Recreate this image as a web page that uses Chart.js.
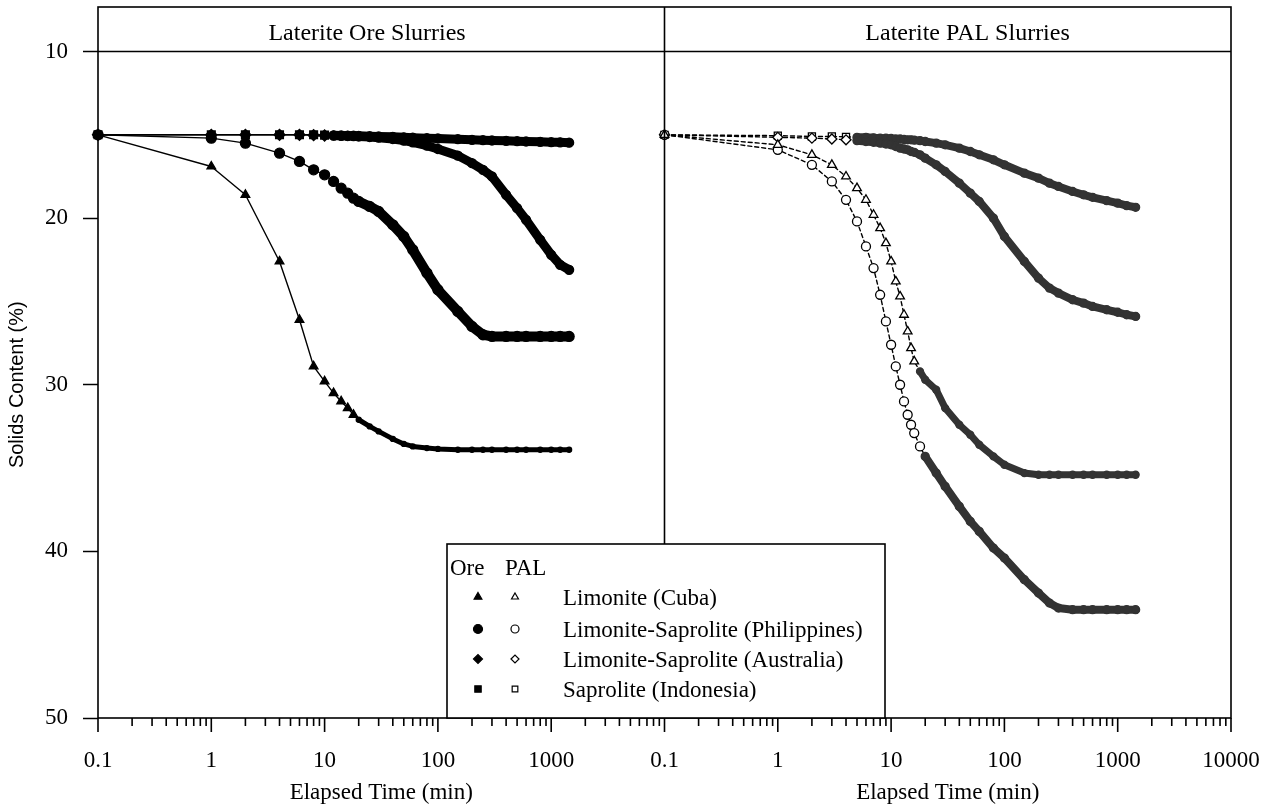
<!DOCTYPE html>
<html>
<head>
<meta charset="utf-8">
<title>Solids content of laterite slurries</title>
<script src="https://cdn.jsdelivr.net/npm/chart.js@4.4.1/dist/chart.umd.min.js"></script>
<style>
  html, body { margin: 0; padding: 0; background: #fff; }
  #wrap { position: relative; width: 1272px; height: 808px; }
</style>
</head>
<body>
<div id="wrap"><canvas id="chart"></canvas></div>
<script>
// --- labels ---
const PANEL_TITLES = ['Laterite Ore Slurries', 'Laterite PAL Slurries'];
const X_TITLE = 'Elapsed Time (min)';
const Y_TITLE = 'Solids Content (%)';
const Y_TICKS = [10, 20, 30, 40, 50];
const X_DECADES = [0.1, 1, 10, 100, 1000, 10000];
const SAMPLE_NAMES = ['Limonite (Cuba)', 'Limonite-Saprolite (Philippines)', 'Limonite-Saprolite (Australia)', 'Saprolite (Indonesia)'];

// --- ore slurries (read every 2 min early on, thinner later) ---
const ORE_TIME = [0.1, 1, 2, 4, 6, 8, 10, 12, 14, 16, 18, 20, 25, 30, 40, 50, 60, 80, 100, 150, 200, 250, 300, 400, 500, 600, 800, 1000, 1200, 1440];
const ORE_CUBA = [15, 16.9, 18.6, 22.6, 26.1, 28.9, 29.8, 30.5, 31.0, 31.4, 31.8, 32.1, 32.5, 32.8, 33.25, 33.55, 33.7, 33.8, 33.85, 33.9, 33.9, 33.9, 33.9, 33.9, 33.9, 33.9, 33.9, 33.9, 33.9, 33.9];
const ORE_PHIL = [15, 15.2, 15.5, 16.1, 16.6, 17.1, 17.4, 17.8, 18.2, 18.5, 18.8, 19.0, 19.3, 19.6, 20.4, 21.1, 21.9, 23.3, 24.3, 25.6, 26.5, 27.0, 27.1, 27.1, 27.1, 27.1, 27.1, 27.1, 27.1, 27.1];
const ORE_AUS  = [15, 15, 15, 15, 15, 15.02, 15.04, 15.05, 15.06, 15.07, 15.08, 15.1, 15.13, 15.17, 15.25, 15.35, 15.45, 15.65, 15.85, 16.25, 16.7, 17.1, 17.5, 18.6, 19.4, 20.1, 21.3, 22.2, 22.8, 23.1];
const ORE_INDO = [15, 15, 15, 15, 15, 15, 15.02, 15.03, 15.04, 15.05, 15.05, 15.06, 15.08, 15.1, 15.12, 15.15, 15.17, 15.2, 15.22, 15.26, 15.3, 15.32, 15.34, 15.36, 15.38, 15.4, 15.42, 15.44, 15.45, 15.47];

// --- PAL slurries (read every minute early on) ---
const PAL_TIME = [0.1, 1, 2, 3, 4, 5, 6, 7, 8, 9, 10, 11, 12, 13, 14, 15, 16, 18, 20, 25, 30, 40, 50, 60, 80, 100, 150, 200, 250, 300, 400, 500, 600, 800, 1000, 1200, 1440];
const PAL_CUBA = [15, 15.6, 16.2, 16.8, 17.5, 18.2, 18.9, 19.8, 20.6, 21.5, 22.6, 23.8, 24.7, 25.8, 26.8, 27.8, 28.6, 29.2, 29.7, 30.3, 31.4, 32.4, 33.0, 33.6, 34.3, 34.8, 35.3, 35.4, 35.4, 35.4, 35.4, 35.4, 35.4, 35.4, 35.4, 35.4, 35.4];
const PAL_PHIL = [15, 15.9, 16.8, 17.8, 18.9, 20.2, 21.7, 23.0, 24.6, 26.2, 27.6, 28.9, 30.0, 31.0, 31.8, 32.4, 32.9, 33.7, 34.3, 35.3, 36.1, 37.3, 38.2, 38.8, 39.8, 40.4, 41.7, 42.5, 43.1, 43.4, 43.5, 43.5, 43.5, 43.5, 43.5, 43.5, 43.5];
const PAL_AUS  = [15, 15.15, 15.2, 15.25, 15.3, 15.35, 15.4, 15.45, 15.5, 15.55, 15.6, 15.7, 15.8, 15.85, 15.9, 16.0, 16.05, 16.2, 16.4, 16.8, 17.2, 17.9, 18.5, 19.0, 20.0, 21.1, 22.6, 23.6, 24.2, 24.5, 24.9, 25.1, 25.3, 25.5, 25.65, 25.8, 25.9];
const PAL_INDO = [15, 15.05, 15.1, 15.1, 15.12, 15.15, 15.15, 15.18, 15.2, 15.2, 15.22, 15.25, 15.25, 15.28, 15.3, 15.3, 15.32, 15.35, 15.4, 15.5, 15.6, 15.8, 16.0, 16.2, 16.5, 16.8, 17.3, 17.6, 17.9, 18.1, 18.4, 18.6, 18.75, 18.95, 19.1, 19.25, 19.35];

const MARKERS = ['triangle', 'circle', 'rectRot', 'rect'];
const SERIF = '"Liberation Serif", "Times New Roman", serif';
const HEAD_H = 44.5;

// dense stretches of overlapping markers are drawn as a thick band
function makeSet(o) {
  const ink = o.filled ? '#000' : '#333';
  const rx = c => (c.raw ? c.raw.x : 0);
  const inBand = x => x >= o.band;
  return {
    label: o.label,
    xAxisID: o.axis,
    yAxisID: 'y',
    data: o.times.map((t, i) => ({ x: t, y: o.values[i] })),
    clip: false,
    borderColor: '#000',
    borderWidth: 1.4,
    borderDash: o.filled ? [] : [4, 3],
    borderCapStyle: 'round',
    borderJoinStyle: 'round',
    tension: 0,
    pointStyle: c => inBand(rx(c)) ? 'circle' : o.style,
    pointRadius: c => inBand(rx(c)) ? o.bandWidth / 2 : o.radius,
    pointBorderWidth: 1.3,
    pointBackgroundColor: c => (o.filled || inBand(rx(c))) ? ink : '#fff',
    pointBorderColor: c => inBand(rx(c)) ? ink : '#000',
    segment: {
      borderWidth: c => inBand(c.p0.parsed.x) ? o.bandWidth : undefined,
      borderColor: c => inBand(c.p0.parsed.x) ? ink : undefined,
      borderDash: c => inBand(c.p0.parsed.x) ? [] : undefined
    }
  };
}

const datasets = [
  makeSet({ label: 'Ore ' + SAMPLE_NAMES[0], axis: 'x1', times: ORE_TIME, values: ORE_CUBA, style: 'triangle', radius: 5, filled: true, band: 20, bandWidth: 5 }),
  makeSet({ label: 'Ore ' + SAMPLE_NAMES[1], axis: 'x1', times: ORE_TIME, values: ORE_PHIL, style: 'circle', radius: 5, filled: true, band: 20, bandWidth: 10 }),
  makeSet({ label: 'Ore ' + SAMPLE_NAMES[2], axis: 'x1', times: ORE_TIME, values: ORE_AUS, style: 'rectRot', radius: 5.5, filled: true, band: 12, bandWidth: 9 }),
  makeSet({ label: 'Ore ' + SAMPLE_NAMES[3], axis: 'x1', times: ORE_TIME, values: ORE_INDO, style: 'rect', radius: 5.5, filled: true, band: 12, bandWidth: 9 }),
  makeSet({ label: 'PAL ' + SAMPLE_NAMES[0], axis: 'x2', times: PAL_TIME, values: PAL_CUBA, style: 'triangle', radius: 5, filled: false, band: 18, bandWidth: 7 }),
  makeSet({ label: 'PAL ' + SAMPLE_NAMES[1], axis: 'x2', times: PAL_TIME, values: PAL_PHIL, style: 'circle', radius: 4.5, filled: false, band: 20, bandWidth: 8 }),
  makeSet({ label: 'PAL ' + SAMPLE_NAMES[2], axis: 'x2', times: PAL_TIME, values: PAL_AUS, style: 'rectRot', radius: 5, filled: false, band: 5, bandWidth: 8 }),
  makeSet({ label: 'PAL ' + SAMPLE_NAMES[3], axis: 'x2', times: PAL_TIME, values: PAL_INDO, style: 'rect', radius: 5, filled: false, band: 5, bandWidth: 8 })
];

function logTicks(scale) {
  const ticks = [];
  X_DECADES.forEach((d, i) => {
    ticks.push({ value: d });
    if (i < X_DECADES.length - 1) for (let m = 2; m <= 9; m++) ticks.push({ value: +(d * m).toPrecision(6) });
  });
  scale.ticks = ticks;
}

function timeAxis(showLast) {
  return {
    type: 'logarithmic', position: 'bottom', stack: 'time', stackWeight: 1,
    min: 0.1, max: 10000,
    afterBuildTicks: logTicks,
    afterFit: s => { s.height = 90; s.paddingLeft = 0; s.paddingRight = 0; },
    ticks: {
      autoSkip: false, maxRotation: 0, padding: 29, color: '#000',
      font: { family: SERIF, size: 23 },
      callback: v => (X_DECADES.includes(v) && (showLast || v !== 10000)) ? String(v) : ''
    },
    grid: { display: false, drawTicks: false },
    border: { display: false },
    title: { display: true, text: X_TITLE, color: '#000', font: { family: SERIF, size: 23 }, padding: { top: 0, bottom: 1 } }
  };
}

const framePlugin = {
  id: 'frame',
  afterDatasetsDraw(chart) {
    const { ctx, chartArea: a, scales } = chart;
    const split = scales.x1.right;
    ctx.save();
    ctx.strokeStyle = '#000';
    ctx.lineWidth = 1.6;
    ctx.strokeRect(a.left, a.top - HEAD_H, a.right - a.left, a.bottom - a.top + HEAD_H);
    ctx.beginPath();
    ctx.moveTo(a.left, a.top); ctx.lineTo(a.right, a.top);
    ctx.moveTo(split, a.top - HEAD_H); ctx.lineTo(split, a.bottom);
    // x tick marks, long at decades
    ['x1', 'x2'].forEach(id => {
      const s = scales[id];
      s.ticks.forEach(t => {
        const px = s.getPixelForValue(t.value);
        const len = X_DECADES.includes(t.value) ? 14 : 8;
        ctx.moveTo(px, a.bottom); ctx.lineTo(px, a.bottom + len);
      });
    });
    ctx.stroke();

    // panel headers
    ctx.fillStyle = '#000';
    ctx.font = '24px ' + SERIF;
    ctx.textAlign = 'center';
    ctx.textBaseline = 'alphabetic';
    ctx.fillText(PANEL_TITLES[0], scales.x1.left + scales.x1.width * 0.475, a.top - 11.5);
    ctx.fillText(PANEL_TITLES[1], scales.x2.left + scales.x2.width * 0.535, a.top - 11.5);

    // legend box
    const bx = 447, by = 544, bw = 438, bh = a.bottom - 544;
    ctx.fillStyle = '#fff';
    ctx.fillRect(bx, by, bw, bh);
    ctx.lineWidth = 1.6;
    ctx.strokeRect(bx, by, bw, bh);
    ctx.fillStyle = '#000';
    ctx.font = '23px ' + SERIF;
    ctx.textAlign = 'left';
    ctx.fillText('Ore', 450, 575);
    ctx.fillText('PAL', 505, 575);
    const rows = [605, 637, 667, 697];
    SAMPLE_NAMES.forEach((name, i) => {
      const y = rows[i];
      ctx.fillStyle = '#000';
      ctx.fillText(name, 563, y);
      ctx.lineWidth = 1.2;
      ctx.strokeStyle = '#000';
      ctx.fillStyle = '#000';
      Chart.helpers.drawPoint(ctx, { pointStyle: MARKERS[i], radius: 4.5, borderWidth: 1, rotation: 0 }, 478, y - 8);
      ctx.fillStyle = '#fff';
      Chart.helpers.drawPoint(ctx, { pointStyle: MARKERS[i], radius: 4, borderWidth: 1.2, rotation: 0 }, 515, y - 8);
    });
    ctx.restore();
  }
};

new Chart(document.getElementById('chart'), {
  type: 'line',
  data: { datasets },
  plugins: [framePlugin],
  options: {
    responsive: true,
    maintainAspectRatio: false,
    animation: false,
    layout: { padding: { top: 51.5, right: 41, bottom: 0, left: 0 } },
    plugins: { legend: { display: false }, tooltip: { enabled: false } },
    scales: {
      x1: timeAxis(false),
      x2: timeAxis(true),
      y: {
        type: 'linear', position: 'left', reverse: true, min: 10, max: 50,
        afterBuildTicks: s => { s.ticks = Y_TICKS.map(v => ({ value: v })); },
        afterFit: s => { s.width = 98; },
        ticks: { color: '#000', padding: 15, font: { family: SERIF, size: 23 } },
        grid: { drawOnChartArea: false, drawTicks: true, tickLength: 15, tickColor: '#000', tickWidth: 1.5 },
        border: { display: false },
        title: { display: true, text: Y_TITLE, color: '#000', font: { family: '"Liberation Sans", Arial, sans-serif', size: 20 }, padding: { top: 5, bottom: 0 } }
      }
    }
  }
});
</script>
</body>
</html>
